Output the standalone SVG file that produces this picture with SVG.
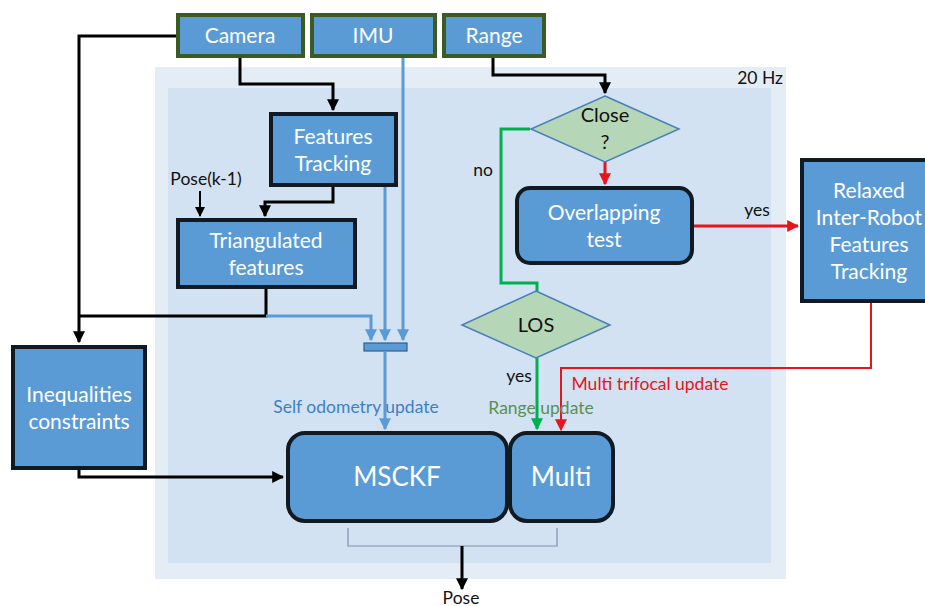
<svg xmlns="http://www.w3.org/2000/svg" width="925" height="606" viewBox="0 0 925 606">
<defs>
<style>
text{font-family:Lato,"Open Sans","Liberation Sans",sans-serif}
.src{fill:#5b9bd5;stroke:#3b5a24;stroke-width:4}
.box{fill:#5b9bd5;stroke:#111a22;stroke-width:4}
.dia{fill:#b6d7b7;stroke:#4a7ebb;stroke-width:1.5}
.wt{fill:#ffffff;font-size:21px;text-anchor:middle}
.big{font-size:26px}
.bt{fill:#111111;font-size:20px;text-anchor:middle}
.sm{fill:#111111;font-size:17.5px;text-anchor:middle}
.k{fill:none;stroke:#000;stroke-width:3}
.b{fill:none;stroke:#5b9bd5;stroke-width:3}
.r{fill:none;stroke:#e8141c;stroke-width:3}
.g{fill:none;stroke:#00b050;stroke-width:3}
</style>
<marker id="ak" viewBox="0 0 10 10" refX="9" refY="5" markerWidth="4" markerHeight="4" orient="auto" markerUnits="strokeWidth"><path d="M0,0L10,5L0,10z" fill="#000"/></marker>
<marker id="ak2" viewBox="0 0 10 10" refX="9" refY="5" markerWidth="5" markerHeight="5" orient="auto" markerUnits="strokeWidth"><path d="M0,0L10,5L0,10z" fill="#000"/></marker>
<marker id="ab" viewBox="0 0 10 10" refX="9" refY="5" markerWidth="4" markerHeight="4" orient="auto" markerUnits="strokeWidth"><path d="M0,0L10,5L0,10z" fill="#5b9bd5"/></marker>
<marker id="ar" viewBox="0 0 10 10" refX="9" refY="5" markerWidth="4" markerHeight="4" orient="auto" markerUnits="strokeWidth"><path d="M0,0L10,5L0,10z" fill="#e8141c"/></marker>
<marker id="ar2" viewBox="0 0 10 10" refX="9" refY="5" markerWidth="6" markerHeight="6" orient="auto" markerUnits="strokeWidth"><path d="M0,0L10,5L0,10z" fill="#e8141c"/></marker>
<marker id="ag" viewBox="0 0 10 10" refX="9" refY="5" markerWidth="4" markerHeight="4" orient="auto" markerUnits="strokeWidth"><path d="M0,0L10,5L0,10z" fill="#00b050"/></marker>
</defs>
<rect width="925" height="606" fill="#fff"/>
<g id="background">
<rect x="155" y="67" width="631" height="512" fill="#e4ecf6"/>
<rect x="168" y="88" width="603" height="475" fill="#d2e2f2"/>
<text x="783" y="84" class="sm" style="text-anchor:end">20 Hz</text>
</g>
<g id="connectors">
<path class="k" d="M176,36H79V342" marker-end="url(#ak)"/>
<path class="k" d="M240,57V84H333V110" marker-end="url(#ak)"/>
<path class="k" d="M333,186V202H265V216" marker-end="url(#ak)"/>
<path fill="none" stroke="#000" stroke-width="2" d="M200,191V216" marker-end="url(#ak2)"/>
<path class="k" d="M266,288V316H79"/>
<path class="b" d="M266,316H371V340" marker-end="url(#ab)"/>
<path class="b" d="M385,186V340" marker-end="url(#ab)"/>
<path class="b" d="M403,57V340" marker-end="url(#ab)"/>
<rect x="364" y="343" width="43" height="8" fill="#5b9bd5" stroke="#2e5f8e" stroke-width="1.2"/>
<path class="b" d="M385,351V429" marker-end="url(#ab)"/>
<path class="k" d="M79,469V477H283" marker-end="url(#ak)"/>
<path class="k" d="M493,57V75H605V93" marker-end="url(#ak)"/>
<path class="r" d="M605,162V184" marker-end="url(#ar)"/>
<path class="r" d="M693,226H798" marker-end="url(#ar)"/>
<path fill="none" stroke="#e8141c" stroke-width="2" d="M871,302V368H561V430" marker-end="url(#ar2)"/>
<path class="g" d="M530,129H501V283H537V291"/>
<path class="g" d="M537,358V429" marker-end="url(#ag)"/>
<path fill="none" stroke="#7f92ab" stroke-width="1.2" d="M348,528V546H557V528"/>
<path class="k" d="M462,546V589" marker-end="url(#ak)"/>
<text x="483" y="176" class="sm">no</text>
<text x="757" y="216" class="sm">yes</text>
<text x="519" y="382" class="sm">yes</text>
<text x="356" y="413" class="sm" style="fill:#3f7fc4">Self odometry update</text>
<text x="541" y="414" class="sm" style="fill:#5b8f52">Range update</text>
<text x="650" y="390" class="sm" style="fill:#e8141c">Multi trifocal update</text>
<text x="461" y="604" class="sm">Pose</text>
</g>
<g id="camera"><rect class="src" x="178" y="15" width="125" height="41"/><text class="wt" x="240" y="43">Camera</text></g>
<g id="imu"><rect class="src" x="312" y="15" width="123" height="41"/><text class="wt" x="373" y="43">IMU</text></g>
<g id="range"><rect class="src" x="444" y="15" width="100" height="41"/><text class="wt" x="494" y="43">Range</text></g>
<g id="features-tracking"><rect class="box" x="271" y="114" width="125" height="71"/><text class="wt" x="333" y="144">Features</text><text class="wt" x="333" y="171">Tracking</text></g>
<text x="206" y="185" class="sm">Pose(k-1)</text>
<g id="triangulated"><rect class="box" x="178" y="220" width="177" height="67"/><text class="wt" x="266" y="248">Triangulated</text><text class="wt" x="266" y="275">features</text></g>
<g id="inequalities"><rect class="box" x="13" y="347" width="132" height="121"/><text class="wt" x="79" y="402">Inequalities</text><text class="wt" x="79" y="429">constraints</text></g>
<g id="close"><polygon class="dia" points="605,96 679,129 605,162 531,129"/><text class="bt" x="605" y="122">Close</text><text class="bt" x="605" y="149">?</text></g>
<g id="overlapping"><rect class="box" x="517" y="188" width="175" height="75" rx="13"/><text class="wt" x="604" y="220">Overlapping</text><text class="wt" x="604" y="247">test</text></g>
<g id="relaxed"><rect class="box" x="802" y="160" width="130" height="141"/><text class="wt" x="869" y="198">Relaxed</text><text class="wt" x="869" y="225">Inter-Robot</text><text class="wt" x="869" y="252">Features</text><text class="wt" x="869" y="279">Tracking</text></g>
<g id="los"><polygon class="dia" points="536,291 610,325 536,358 462,325"/><text class="bt" x="536" y="332">LOS</text></g>
<g id="msckf"><rect class="box" x="288" y="433" width="219" height="88" rx="17"/><text class="wt big" x="397" y="486">MSCKF</text></g>
<g id="multi"><rect class="box" x="510" y="433" width="103" height="88" rx="17"/><text class="wt big" x="561" y="486">Multi</text></g>
</svg>
